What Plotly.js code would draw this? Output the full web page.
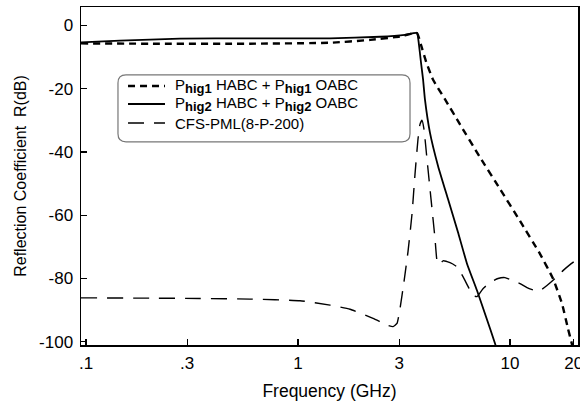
<!DOCTYPE html>
<html>
<head>
<meta charset="utf-8">
<script src="https://cdn.plot.ly/plotly-3.0.1.min.js"></script>
<style>
  html, body { margin: 0; padding: 0; background: #fff; }
  #chart { width: 580px; height: 401px; }
</style>
</head>
<body>
<div id="chart"></div>
<script>
// Reflection coefficient vs frequency for three absorbing boundary schemes

// P_hig1 HABC + P_hig1 OABC
const hig1Freq = [0.0947, 0.2, 0.594, 1.416, 2.19, 3.03, 3.64, 3.80, 4.02, 4.33, 4.94, 5.81, 7.22, 8.97, 11.15, 13.85, 15.95, 17.59, 18.77, 19.61, 19.9];
const hig1Db   = [-5.7, -5.8, -5.8, -5.5, -4.6, -3.5, -2.4, -6.1, -11.5, -17.1, -23.4, -31.3, -41.7, -51.7, -61.8, -72.2, -80.0, -87.9, -95.8, -100.8, -103];

// P_hig2 HABC + P_hig2 OABC
const hig2Freq = [0.0947, 0.1446, 0.2776, 0.594, 1.416, 2.437, 3.197, 3.64, 3.72, 3.80, 3.89, 3.97, 4.19, 4.58, 5.10, 5.68, 6.27, 6.99, 7.70, 8.50, 8.68];
const hig2Db   = [-5.4, -4.8, -4.2, -4.1, -4.1, -3.6, -3.0, -2.4, -6.1, -11.5, -17.1, -23.4, -33.8, -44.5, -54.9, -65.3, -75.3, -83.8, -92.0, -100.5, -102.7];

// CFS-PML(8-P-200)
const cfsFreq = [0.0947, 0.2004, 0.3449, 0.5937, 1.022, 1.416, 1.759, 2.259, 2.658, 2.807, 2.931, 3.028, 3.162, 3.303, 3.450, 3.564, 3.681, 3.762, 3.845, 3.930, 4.060, 4.241, 4.429, 4.525, 4.626, 4.831, 5.212, 5.623, 6.003, 6.339, 6.693, 6.989, 7.459, 8.050, 8.778, 9.471, 10.33, 11.15, 12.03, 13.12, 13.85, 14.94, 16.31, 17.78, 19.19, 20.94];
const cfsDb   = [-86.1, -86.2, -86.3, -86.5, -87.0, -88.4, -89.7, -92.6, -94.8, -95.2, -94.2, -89.5, -81.0, -71.5, -59.6, -47.0, -36.0, -31.3, -30.0, -32.9, -42.3, -54.9, -67.4, -74.4, -75.6, -74.4, -75.0, -76.3, -79.4, -82.5, -85.4, -85.7, -83.2, -81.3, -80.0, -79.7, -80.7, -81.6, -82.9, -83.8, -83.8, -82.2, -80.0, -77.5, -75.6, -73.7];

const xTickVals = [0.1, 0.3, 1, 3, 10, 20];
const xTickText = ['.1', '.3', '1', '3', '10', '20'];
const yTickVals = [0, -20, -40, -60, -80, -100];
const yTickText = ['0', '-20', '-40', '-60', '-80', '-100'];

const SUB = s => `<sub><span style="font-size:13px;font-weight:bold">${s}</span></sub>`;
const seriesNames = [
  `P${SUB('hig1')} HABC + P${SUB('hig1')} OABC`,
  `P${SUB('hig2')} HABC + P${SUB('hig2')} OABC`,
  'CFS-PML(8-P-200)'
];

const FONT = 'Liberation Sans, Arial, Helvetica, sans-serif';

const styles = [
  { color: '#000', width: 2.4, dash: '7px,5px' },
  { color: '#000', width: 1.8, dash: 'solid' },
  { color: '#000', width: 1.4, dash: '16px,10px' }
];

const traces = [
  { x: hig1Freq, y: hig1Db, name: seriesNames[0], mode: 'lines',
    line: Object.assign({ shape: 'spline', smoothing: 0.4 }, styles[0]) },
  { x: hig2Freq, y: hig2Db, name: seriesNames[1], mode: 'lines',
    line: Object.assign({ shape: 'spline', smoothing: 0.4 }, styles[1]) },
  { x: cfsFreq, y: cfsDb, name: seriesNames[2], mode: 'lines',
    line: Object.assign({ shape: 'spline', smoothing: 0.4 }, styles[2]) }
];

// legend frame with rounded corners, in paper units
const L = { x0: 0.0744, x1: 0.662, y0: 0.601, y1: 0.799 };
const rx = 8 / 497, ry = 8 / 338;
const framePath =
  `M${L.x0 + rx},${L.y1} L${L.x1 - rx},${L.y1} Q${L.x1},${L.y1} ${L.x1},${L.y1 - ry} ` +
  `L${L.x1},${L.y0 + ry} Q${L.x1},${L.y0} ${L.x1 - rx},${L.y0} ` +
  `L${L.x0 + rx},${L.y0} Q${L.x0},${L.y0} ${L.x0},${L.y0 + ry} ` +
  `L${L.x0},${L.y1 - ry} Q${L.x0},${L.y1} ${L.x0 + rx},${L.y1} Z`;

// legend rows: sample line span and row heights (paper units)
const keyX0 = 0.0946, keyX1 = 0.169, labelX = 0.1851;
const rowY = [0.7663, 0.7130, 0.6568];

const shapes = [
  { type: 'path', xref: 'paper', yref: 'paper', path: framePath,
    line: { color: '#777', width: 1.2 }, fillcolor: 'rgba(0,0,0,0)', layer: 'below' }
];
const annotations = [];
seriesNames.forEach((name, i) => {
  shapes.push({ type: 'line', xref: 'paper', yref: 'paper',
    x0: keyX0, x1: keyX1, y0: rowY[i], y1: rowY[i], line: styles[i] });
  annotations.push({ xref: 'paper', yref: 'paper', x: labelX, y: rowY[i],
    xanchor: 'left', yanchor: 'middle', showarrow: false, text: name,
    font: { family: FONT, size: 15, color: '#000' } });
});

const layout = {
  width: 580, height: 401,
  margin: { l: 81, r: 2, t: 7, b: 56 },
  paper_bgcolor: '#fff', plot_bgcolor: '#fff',
  font: { family: FONT, color: '#000', size: 15 },
  showlegend: false,
  xaxis: {
    type: 'log', range: [-1.0236, 1.3208],
    tickvals: xTickVals, ticktext: xTickText, ticklabeloverflow: 'allow',
    ticks: 'inside', ticklen: 6, tickwidth: 1.2, tickcolor: '#000',
    showline: true, linecolor: '#000', linewidth: 1.5, mirror: true,
    showgrid: false, zeroline: false, ticklabelstandoff: 2,
    tickfont: { family: FONT, size: 17, color: '#000' },
    title: { text: 'Frequency (GHz)', font: { family: FONT, size: 17.5, color: '#000' }, standoff: 15 }
  },
  yaxis: {
    range: [-101, 5.8],
    tickvals: yTickVals, ticktext: yTickText,
    ticks: 'inside', ticklen: 6, tickwidth: 1.2, tickcolor: '#000',
    showline: true, linecolor: '#000', linewidth: 1.5, mirror: true,
    showgrid: false, zeroline: false, ticklabelstandoff: 3,
    tickfont: { family: FONT, size: 17, color: '#000' },
    title: { text: 'Reflection Coefficient  R(dB)', font: { family: FONT, size: 16, color: '#000' }, standoff: 8 }
  },
  shapes: shapes,
  annotations: annotations
};

Plotly.newPlot('chart', traces, layout, { displayModeBar: false, staticPlot: true });
</script>
</body>
</html>
